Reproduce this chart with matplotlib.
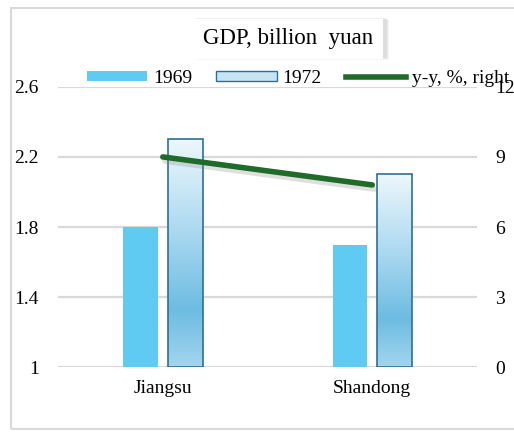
import numpy as np
import matplotlib.pyplot as plt
import matplotlib.patheffects as pe
from matplotlib.colors import LinearSegmentedColormap
from matplotlib.patches import Patch, Rectangle
from matplotlib.lines import Line2D

regions = ["Jiangsu", "Shandong"]
gdp_1969 = [1.8, 1.7]
gdp_1972 = [2.3, 2.1]
yy_growth = [9.0, 7.8]
left_ticks = [1, 1.4, 1.8, 2.2, 2.6]
left_labels = ["1", "1.4", "1.8", "2.2", "2.6"]
right_ticks = [0, 3, 6, 9, 12]

plt.rcParams["font.family"] = ["Liberation Serif", "DejaVu Serif"]

fig = plt.figure(figsize=(5.14, 4.32), dpi=100)
ax = fig.add_axes([0.113, 0.150, 0.815, 0.649])

grid_c = "#d9d9d9"
x = np.arange(len(regions))
w = 0.165
off = 0.107

ax.bar(x - off, np.array(gdp_1969) - 1, w, bottom=1, color="#5fcbf2", zorder=2)
bars72 = ax.bar(x + off, np.array(gdp_1972) - 1, w, bottom=1,
                facecolor="none", edgecolor="#2d6f95", linewidth=1.2, zorder=3)

# vertical gradient inside the 1972 bars
cmap = LinearSegmentedColormap.from_list(
    "grad", [(0, "#a3d5ee"), (0.25, "#6dbce2"), (0.6, "#acd9f0"), (1, "#edf7fc")])
grad = np.linspace(0, 1, 256).reshape(-1, 1)
for b in bars72:
    x0, y0 = b.get_x(), b.get_y()
    im = ax.imshow(grad, cmap=cmap, origin="lower", aspect="auto",
                   extent=[x0, x0 + b.get_width(), y0, y0 + b.get_height()], zorder=2.5)
    im.set_clip_path(b)

ax.set_xlim(-0.5, 1.5)
ax.set_ylim(1, 2.6)
ax.set_yticks(left_ticks)
ax.set_yticklabels(left_labels)
ax.set_xticks(x)
ax.set_xticklabels(regions)
ax.tick_params(axis="y", length=0, pad=14, labelsize=14)
ax.tick_params(axis="x", length=0, pad=9, labelsize=14)
ax.grid(axis="y", color=grid_c, linewidth=1.6, zorder=0)
ax.set_axisbelow(True)
for s in ax.spines.values():
    s.set_visible(False)

ax2 = ax.twinx()
ax2.plot(x, yy_growth, color="#1e6b2a", linewidth=4, solid_capstyle="round",
         path_effects=[pe.SimpleLineShadow(offset=(1.5, -3), shadow_color="gray", alpha=0.25),
                       pe.Normal()])
ax2.set_ylim(0, 12)
ax2.set_yticks(right_ticks)
ax2.tick_params(axis="y", length=0, pad=13, labelsize=14)
for s in ax2.spines.values():
    s.set_visible(False)

handles = [Patch(facecolor="#5fcbf2", edgecolor="none"),
           Patch(facecolor="#c5e5f5", edgecolor="#2d6f95", linewidth=1),
           Line2D([], [], color="#1e6b2a", linewidth=4)]
fig.legend(handles, ["1969", "1972", "y-y, %, right"], ncol=3, frameon=False,
           loc="center left", bbox_to_anchor=(0.169, 0.818), borderaxespad=0, borderpad=0,
           fontsize=14, handlelength=3.1, handleheight=0.42, handletextpad=0.3,
           columnspacing=1.25)

# title box with soft shadow
for i, a in enumerate([0.12, 0.1, 0.08]):
    d = i + 1
    fig.patches.append(Rectangle(((194 + d) / 514, 1 - (57 + d) / 432), 192 / 514, 40 / 432,
                                 transform=fig.transFigure, facecolor="#888888",
                                 edgecolor="none", alpha=a, zorder=1))
fig.text(0.561, 0.910, "GDP, billion  yuan", ha="center", va="center", fontsize=16.5,
         bbox=dict(boxstyle="square,pad=0.4", facecolor="white", edgecolor="none"), zorder=5)

# outer frame
fig.patches.append(Rectangle((11 / 514, 1 - 429 / 432), 1.2, 421 / 432,
                             transform=fig.transFigure, facecolor="none",
                             edgecolor=grid_c, linewidth=1.5, zorder=0))

fig.savefig("out.png", dpi=100)
